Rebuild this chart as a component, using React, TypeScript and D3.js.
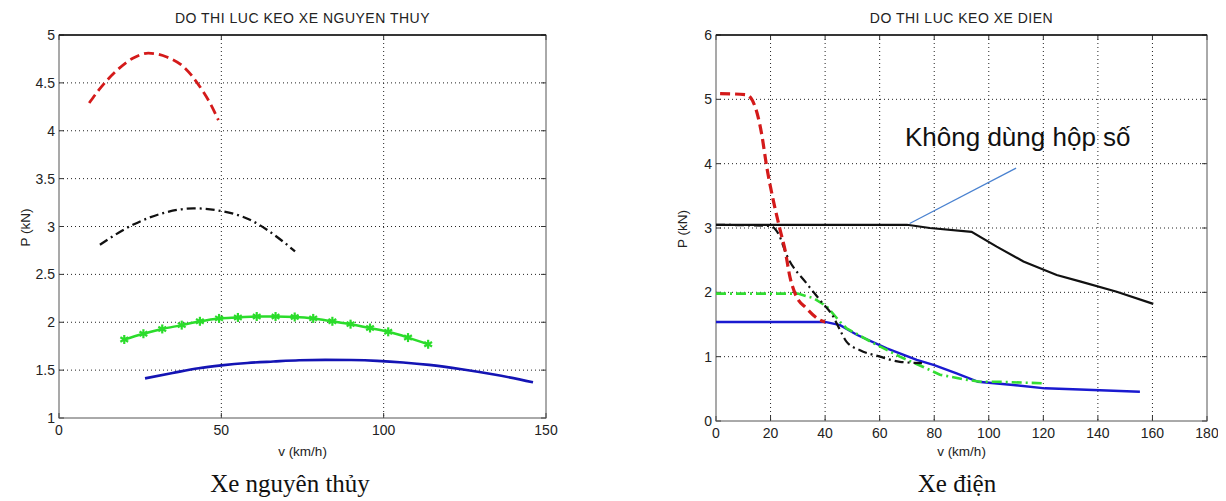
import React from 'react';
import * as d3 from 'd3';

// ---- left chart data (xe nguyen thuy) ----
const leftXTicks = [0, 50, 100, 150];
const leftYTicks = [1, 1.5, 2, 2.5, 3, 3.5, 4, 4.5, 5];

const leftRed: [number, number][] = [
  [9.3, 4.29], [12.6, 4.44], [17.8, 4.63], [22.9, 4.76], [27.5, 4.81],
  [33.2, 4.77], [38.3, 4.67], [43.4, 4.46], [46.5, 4.29], [49.1, 4.11],
];
const leftBlack: [number, number][] = [
  [12.6, 2.81], [22.9, 3.02], [33.2, 3.15], [41.4, 3.19], [48.6, 3.17],
  [58.8, 3.07], [69.1, 2.84], [72.7, 2.74],
];
const leftGreen: [number, number][] = [
  [20.1, 1.82], [26, 1.88], [31.8, 1.93], [37.8, 1.97], [43.4, 2.01],
  [49.3, 2.04], [55.1, 2.05], [60.9, 2.06], [66.7, 2.06], [72.6, 2.055],
  [78.3, 2.04], [84.2, 2.01], [89.8, 1.98], [95.8, 1.94], [101.4, 1.9],
  [107.5, 1.84], [113.7, 1.77],
];
const leftBlue: [number, number][] = [
  [26.5, 1.414], [35, 1.47], [43, 1.52], [50, 1.55], [58, 1.575], [66, 1.59],
  [74, 1.603], [82, 1.607], [90, 1.605], [98, 1.597], [106, 1.58], [114, 1.555],
  [124, 1.51], [134, 1.455], [146, 1.373],
];

// ---- right chart data (xe dien) ----
const rightXTicks = [0, 20, 40, 60, 80, 100, 120, 140, 160, 180];
const rightYTicks = [0, 1, 2, 3, 4, 5, 6];

const rightRed: [number, number][] = [
  [1.5, 5.09], [11.2, 5.07], [14.3, 4.89], [16.7, 4.47], [18.6, 3.95],
  [21, 3.43], [23.5, 2.97], [25.3, 2.66], [27.1, 2.24], [29, 1.98],
  [33.2, 1.75], [38.1, 1.57], [40, 1.54],
];
const rightBlackDash: [number, number][] = [
  [0, 3.05], [20, 3.03], [23, 2.9], [25.9, 2.58], [33.2, 2.14], [38.1, 1.88],
  [43, 1.62], [45.5, 1.41], [47.9, 1.23], [52.8, 1.1], [60.1, 1.0],
  [67.4, 0.92], [75.5, 0.9],
];
const rightBlack: [number, number][] = [
  [0, 3.05], [70, 3.05], [78.4, 3.0], [93.7, 2.94], [102.9, 2.71],
  [112.7, 2.48], [124.9, 2.27], [133.4, 2.17], [146.9, 2.01], [160.3, 1.82],
];
const rightGreen: [number, number][] = [
  [0, 1.98], [30, 1.98], [35.7, 1.91], [40.6, 1.78], [45.5, 1.54], [47.9, 1.44],
  [57.7, 1.21], [67.4, 1.0], [76, 0.84], [82.1, 0.72], [90.6, 0.65],
  [96.8, 0.61], [102.9, 0.61], [120.6, 0.586],
];
const rightBlue: [number, number][] = [
  [0, 1.54], [40, 1.54], [45.5, 1.49], [51.6, 1.34], [62.6, 1.13], [73.6, 0.95],
  [80, 0.87], [88.2, 0.74], [96.1, 0.61], [109, 0.56], [120.6, 0.508],
  [133.4, 0.49], [155.4, 0.455],
];
// annotation pointer for "Không dùng hộp số"
const pointer: [number, number][] = [[71, 3.07], [110, 3.93]];

type Series = { data: [number, number][]; color: string; width: number; dash?: string; stars?: boolean; smooth?: boolean };

const FONT = 'Liberation Sans, Arial, sans-serif';
const SERIF = 'Liberation Serif, Times New Roman, serif';

function Panel(props: {
  x0: number; x1: number; y0: number; y1: number;
  xDomain: [number, number]; yDomain: [number, number];
  xTicks: number[]; yTicks: number[];
  title: string; series: Series[]; children?: (x: any, y: any) => React.ReactNode;
}) {
  const { x0, x1, y0, y1, xDomain, yDomain, xTicks, yTicks, title, series } = props;
  const x = d3.scaleLinear().domain(xDomain).range([x0, x1]);
  const y = d3.scaleLinear().domain(yDomain).range([y1, y0]);
  const smoothLine = d3.line<[number, number]>().x(d => x(d[0])).y(d => y(d[1])).curve(d3.curveMonotoneX);
  const straightLine = d3.line<[number, number]>().x(d => x(d[0])).y(d => y(d[1]));
  const star = (cx: number, cy: number, i: number) => (
    <g key={i} transform={`translate(${cx},${cy})`}>
      {[90, 30, -30].map(a => {
        const r = 4.5, t = (a * Math.PI) / 180;
        return <line key={a} x1={-r * Math.cos(t)} y1={-r * Math.sin(t)} x2={r * Math.cos(t)} y2={r * Math.sin(t)} />;
      })}
    </g>
  );
  const cx = (x0 + x1) / 2;
  return (
    <g fontFamily={FONT}>
      {/* grid */}
      <g stroke="#222" strokeWidth={1} strokeDasharray="1,3">
        {xTicks.slice(1, -1).map(t => <line key={'gx' + t} x1={x(t)} x2={x(t)} y1={y0} y2={y1} />)}
        {yTicks.slice(1, -1).map(t => <line key={'gy' + t} x1={x0} x2={x1} y1={y(t)} y2={y(t)} />)}
      </g>
      {/* ticks inward */}
      <g stroke="#333" strokeWidth={1}>
        {xTicks.map(t => (
          <g key={'tx' + t}>
            <line x1={x(t)} x2={x(t)} y1={y1} y2={y1 - 5} />
            <line x1={x(t)} x2={x(t)} y1={y0} y2={y0 + 5} />
          </g>
        ))}
        {yTicks.map(t => (
          <g key={'ty' + t}>
            <line x1={x0} x2={x0 + 5} y1={y(t)} y2={y(t)} />
            <line x1={x1} x2={x1 - 5} y1={y(t)} y2={y(t)} />
          </g>
        ))}
      </g>
      {/* box */}
      <rect x={x0} y={y0} width={x1 - x0} height={y1 - y0} fill="none" stroke="#555" strokeWidth={1} />
      <line x1={x0} x2={x1} y1={y0} y2={y0} stroke="#111" strokeWidth={1.6} />
      {/* tick labels */}
      <g fontSize={14} fill="#222">
        {xTicks.map(t => (
          <text key={'lx' + t} x={x(t)} y={y1 + 17} textAnchor="middle">{t}</text>
        ))}
        {yTicks.map(t => (
          <text key={'ly' + t} x={x0 - 4} y={y(t) + 5} textAnchor="end">{t}</text>
        ))}
      </g>
      <text x={cx} y={23} fontSize={14} letterSpacing={0.5} textAnchor="middle" fill="#222">{title}</text>
      <text x={cx} y={456} fontSize={13.5} textAnchor="middle" fill="#222">v (km/h)</text>
      <text transform={`translate(${x0 - 29},${(y0 + y1) / 2 + 1}) rotate(-90)`} fontSize={13.5} textAnchor="middle" fill="#222">P (kN)</text>
      {/* series */}
      {series.map((s, i) => (
        <g key={i}>
          <path d={(s.smooth === false ? straightLine : smoothLine)(s.data) || ''} fill="none" stroke={s.color} strokeWidth={s.width} strokeDasharray={s.dash} />
          {s.stars && (
            <g stroke={s.color} strokeWidth={2.2}>
              {s.data.map((d, j) => star(x(d[0]), y(d[1]), j))}
            </g>
          )}
        </g>
      ))}
      {props.children && props.children(x, y)}
    </g>
  );
}

export default function App() {
  return (
    <svg width={1226} height={501} style={{ display: 'block', margin: '-8px 0 0 -8px' }}>
      <rect width={1226} height={501} fill="#fff" />
      <Panel
        x0={59} x1={546} y0={35} y1={418}
        xDomain={[0, 150]} yDomain={[1, 5]}
        xTicks={leftXTicks} yTicks={leftYTicks}
        title="DO THI LUC KEO XE NGUYEN THUY"
        series={[
          { data: leftRed, color: '#d41a1a', width: 2.8, dash: '10,5' },
          { data: leftBlack, color: '#111', width: 2.3, dash: '9,4,2,4' },
          { data: leftGreen, color: '#2bdc2b', width: 2.5, stars: true },
          { data: leftBlue, color: '#1414b4', width: 2.6 },
        ]}
      />
      <Panel
        x0={716} x1={1207} y0={35} y1={421}
        xDomain={[0, 180]} yDomain={[0, 6]}
        xTicks={rightXTicks} yTicks={rightYTicks}
        title="DO THI LUC KEO XE DIEN"
        series={[
          { data: rightBlack, color: '#111', width: 2.2, smooth: false },
          { data: rightBlue, color: '#1a1ad0', width: 2.4, smooth: false },
          { data: rightGreen, color: '#33dd33', width: 2.6, dash: '10,4,2,4', smooth: false },
          { data: rightBlackDash, color: '#111', width: 2.2, dash: '9,4,2,4' },
          { data: rightRed, color: '#d41a1a', width: 3.2, dash: '10,5' },
        ]}
      >
        {(x, y) => (
          <g>
            <line x1={x(pointer[0][0])} y1={y(pointer[0][1])} x2={x(pointer[1][0])} y2={y(pointer[1][1])} stroke="#4a82d0" strokeWidth={1.3} />
            <text x={905} y={146} fontSize={26} fill="#111" fontFamily={FONT}>Không dùng hộp số</text>
          </g>
        )}
      </Panel>
      <text x={290} y={492} fontSize={25} textAnchor="middle" fontFamily={SERIF} fill="#111">Xe nguyên thủy</text>
      <text x={957} y={492} fontSize={25} textAnchor="middle" fontFamily={SERIF} fill="#111">Xe điện</text>
    </svg>
  );
}
